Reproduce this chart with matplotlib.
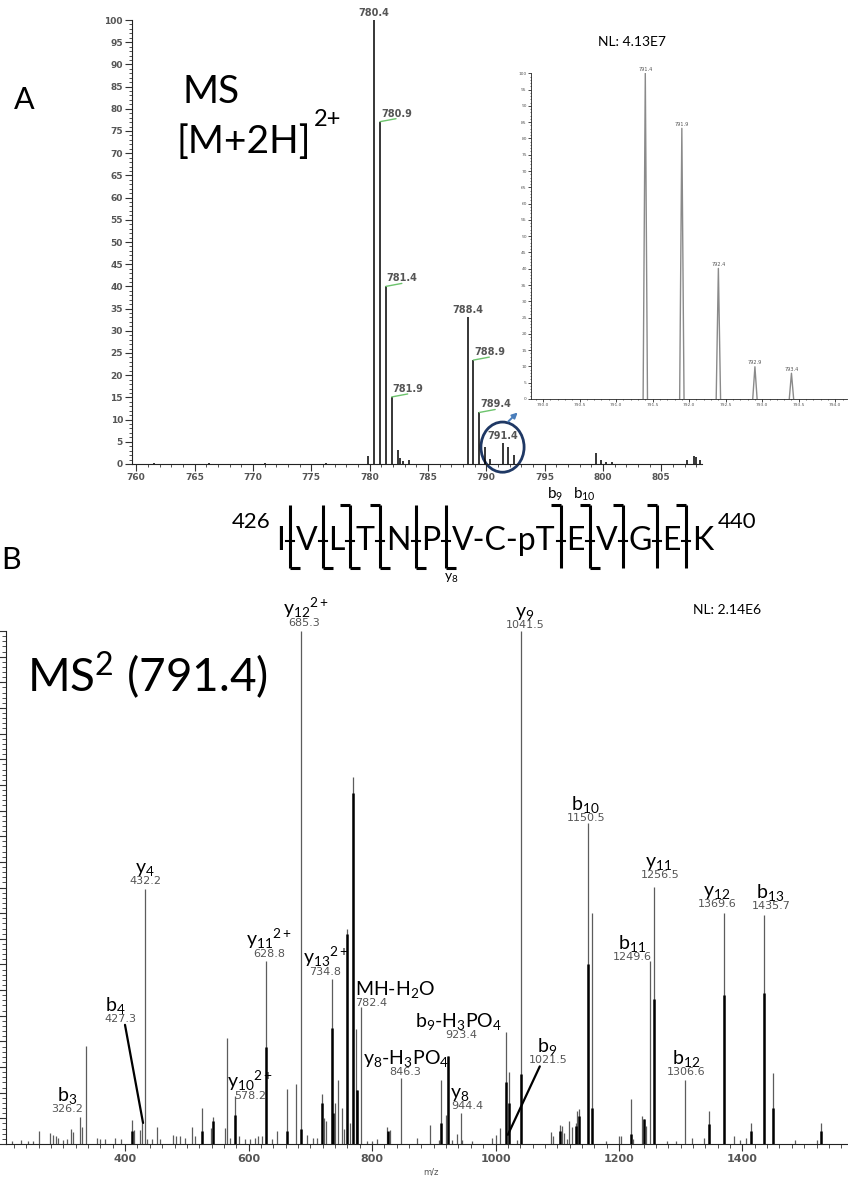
import matplotlib.pyplot as plt
from matplotlib.patches import Ellipse
from matplotlib.ticker import MultipleLocator, FormatStrFormatter

plt.rcParams['font.family'] = ['Lato', 'DejaVu Sans']
plt.rcParams['mathtext.fontset'] = 'custom'
plt.rcParams['mathtext.rm'] = 'Lato'
plt.rcParams['mathtext.it'] = 'Lato:italic'
plt.rcParams['mathtext.bf'] = 'Lato:bold'

# ---------------- data ----------------
# A: full MS scan (relative abundance)
ms1_mz = [761.5, 766.2, 771.0, 776.3, 779.9, 780.4, 780.9, 781.4, 781.9, 782.4,
          782.65, 782.9, 783.35, 788.4, 788.9, 789.4, 789.9, 790.3, 791.4, 791.9,
          792.4, 799.4, 799.8, 800.3, 800.8, 807.2, 807.8, 807.95, 808.3]
ms1_int = [0.3, 0.2, 0.2, 0.2, 1.7, 100, 77.1, 40.0, 15.1, 3.1,
           1.4, 0.6, 0.8, 33.2, 23.4, 11.6, 3.9, 1.1, 4.7, 3.9,
           2.1, 2.5, 0.9, 0.4, 0.4, 0.8, 1.9, 1.5, 1.0]
ms1_labels = ['780.4', '780.9', '781.4', '781.9', '788.4', '788.9', '789.4', '791.4']
ms1_green = ['780.9', '781.4', '781.9', '788.9', '789.4']

# inset: zoom scan of the 791.4 cluster
zoom_mz = [791.4, 791.9, 792.4, 792.9, 793.4]
zoom_int = [100, 83.1, 40.1, 9.9, 7.9]

# peptide sequence and fragment cuts
seq_tokens = ['I', 'V', 'L', 'T', 'N', 'P', 'V-C-pT', 'E', 'V', 'G', 'E', 'K']
cut_b = [False, False, True, True, False, False, True, True, True, True, True]
cut_y = [True, True, True, True, True, True, False, True, False, False, False]
cut_label = ['', '', '', '', '', 'y$_8$', 'b$_9$', 'b$_{10}$', '', '', '']

# B: MS2 of 791.4, profile lines (grey)
ms2_mz = [216.5, 231.0, 243.4, 251.5, 261.2, 278.5, 283.9, 288.2, 292.0, 300.1,
          305.6, 312.5, 316.3, 326.2, 330.0, 336.8, 354.2, 359.5, 367.6, 383.8,
          393.0, 410.8, 414.6, 424.3, 427.3, 432.2, 435.1, 443.2, 451.3, 456.7,
          478.3, 482.6, 489.1, 497.2, 508.0, 513.4, 524.2, 538.8, 543.1, 562.0,
          564.7, 570.1, 578.2, 585.2, 594.4, 602.5, 610.6, 616.0, 621.5, 628.8,
          637.6, 645.7, 662.9, 677.0, 685.3, 694.3, 705.0, 710.5, 718.6, 722.0,
          726.0, 734.8, 740.0, 745.6, 751.0, 755.0, 760.2, 764.0, 769.9, 774.2,
          776.3, 782.4, 791.5, 799.6, 807.7, 823.9, 829.3, 846.3, 872.5, 894.1,
          908.7, 912.0, 920.0, 923.4, 930.3, 937.3, 944.4, 946.5, 962.6, 995.0,
          1000.5, 1007.5, 1016.7, 1021.5, 1035.6, 1041.5, 1089.6, 1093.0, 1104.7, 1107.0,
          1111.2, 1115.0, 1119.3, 1124.7, 1130.1, 1132.8, 1135.5, 1150.5, 1157.0, 1178.7,
          1200.3, 1203.0, 1219.2, 1222.0, 1237.0, 1240.0, 1243.0, 1249.6, 1256.5, 1277.5,
          1292.1, 1306.6, 1319.0, 1338.0, 1346.0, 1369.6, 1386.6, 1396.3, 1405.5, 1413.6,
          1435.7, 1450.2, 1484.8, 1521.5, 1527.0]
ms2_int = [0.5, 0.7, 0.6, 0.6, 2.5, 2.1, 1.8, 1.5, 1.2, 0.7,
           0.9, 2.9, 2.3, 5.2, 3.3, 19.2, 1.2, 0.9, 0.9, 1.2,
           0.9, 4.7, 2.8, 2.8, 4.1, 49.7, 0.9, 0.9, 3.3, 0.9,
           1.8, 1.5, 1.5, 1.2, 3.4, 1.5, 7.1, 3.1, 5.2, 3.1,
           20.7, 1.2, 9.4, 1.5, 0.9, 0.9, 1.2, 1.5, 1.5, 35.7,
           0.9, 2.5, 10.7, 11.7, 100, 1.8, 1.2, 1.2, 9.8, 5.0,
           4.5, 32.2, 8.0, 12.5, 7.1, 3.0, 42.0, 4.0, 71.6, 22.5,
           10.6, 26.7, 0.5, 0.5, 0.9, 3.4, 2.8, 12.9, 1.2, 3.8,
           0.8, 12.5, 5.6, 17.1, 0.8, 2.0, 6.1, 0.8, 0.5, 1.2,
           1.8, 3.1, 21.9, 14.0, 0.8, 100, 2.3, 1.5, 3.8, 3.5,
           2.1, 1.0, 4.4, 3.4, 4.1, 6.4, 6.8, 62.5, 45.1, 0.5,
           1.5, 1.5, 8.7, 1.0, 5.4, 4.8, 3.5, 35.7, 50.1, 0.5,
           0.5, 12.4, 1.2, 1.2, 6.4, 45.0, 1.5, 0.8, 1.2, 4.1,
           44.6, 13.9, 0.8, 0.8, 4.1]
# B: centroid lines (black)
ms2_bk_mz = [410.8, 524.2, 543.1, 578.2, 628.8, 662.9, 685.3, 718.6, 734.8, 737.5,
             760.2, 769.9, 776.3, 826.0, 912.0, 923.4, 1016.7, 1021.5, 1041.5, 1104.7,
             1130.1, 1135.5, 1150.5, 1157.0, 1219.2, 1240.0, 1256.5, 1346.0, 1369.6, 1413.6,
             1435.7, 1450.2, 1527.0]
ms2_bk_int = [2.5, 2.5, 4.5, 5.6, 19.0, 2.5, 3.0, 7.9, 22.6, 6.0,
              41.0, 68.5, 10.6, 2.5, 4.0, 17.1, 12.1, 7.9, 13.7, 2.5,
              3.5, 5.5, 35.1, 7.1, 2.0, 4.8, 28.2, 3.9, 29.0, 2.5,
              29.4, 7.1, 2.5]

# B: assigned fragment ions
ion_names = ['b$_3$', 'b$_4$', 'y$_4$', 'y$_{10}$$^{2+}$', 'y$_{11}$$^{2+}$',
             'y$_{12}$$^{2+}$', 'y$_{13}$$^{2+}$', 'MH-H$_2$O', 'y$_8$-H$_3$PO$_4$',
             'b$_9$-H$_3$PO$_4$', 'y$_8$', 'b$_9$', 'y$_9$', 'b$_{10}$', 'b$_{11}$',
             'y$_{11}$', 'b$_{12}$', 'y$_{12}$', 'b$_{13}$']
ion_mz = [326.2, 427.3, 432.2, 578.2, 628.8, 685.3, 734.8, 782.4, 846.3,
          923.4, 944.4, 1021.5, 1041.5, 1150.5, 1249.6, 1256.5, 1306.6, 1369.6, 1435.7]

# label placement (pixel offset from peak, label height in %)
lab_dx = [-12, -22, 0, 15, 3, 3, -7, 10, 5, 13, 6, 39, 4, -2, -17, 6, 1, -6, 7]
ion_dx = [-12, -27, 0, 15, 3, 5, -6, 34, 6, 10, -1, 38, 4, -3, -18, 5, 1, -7, 6]
lab_y = [6.8, 24.4, 51.3, 9.4, 37.1, 101.5, 33.6, 27.5, 14.0, 21.3, 7.5, 16.3,
         101.2, 63.5, 36.5, 52.4, 14.0, 46.7, 46.3]
leaders = {1: ((5, -6), (429.0, 4.1)), 11: ((-8, -6), (1020.0, 1.8))}

# ---------------- figure ----------------
W, H = 848, 1178
fig = plt.figure(figsize=(W / 100, H / 100), dpi=100)


def px_axes(left, top, right, bottom):
    return fig.add_axes([left / W, 1 - bottom / H, (right - left) / W, (bottom - top) / H])


def clean(ax, lw=0.8):
    for s in ['top', 'right']:
        ax.spines[s].set_visible(False)
    for s in ['left', 'bottom']:
        ax.spines[s].set_linewidth(lw)
        ax.spines[s].set_color('#222222')


num_font = dict(family='DejaVu Sans', color='#555555')

# ---- panel A
axA = px_axes(132, 20, 702, 464)
axA.vlines(ms1_mz, 0, ms1_int, color='black', lw=1.1)
axA.set_xlim(759.64, 808.5)
axA.set_ylim(0, 100)
clean(axA)
axA.xaxis.set_major_locator(MultipleLocator(5))
axA.xaxis.set_minor_locator(MultipleLocator(1))
axA.yaxis.set_major_locator(MultipleLocator(5))
axA.yaxis.set_minor_locator(MultipleLocator(1))
axA.tick_params(which='major', length=5, width=0.8, color='#333333', labelsize=6.5,
                labelcolor='#555555', labelfontfamily='DejaVu Sans', pad=1.5)
axA.tick_params(which='minor', length=2.5, width=0.6, color='#333333')
for t in axA.get_xticklabels() + axA.get_yticklabels():
    t.set_fontweight('bold')

for lab in ms1_labels:
    mz = float(lab)
    h = ms1_int[ms1_mz.index(mz)]
    if lab in ms1_green:
        axA.annotate('', xy=(mz, h), xytext=(16, 3), textcoords='offset pixels',
                     arrowprops=dict(arrowstyle='-', color='#6cc36c', lw=1.0,
                                     shrinkA=0, shrinkB=0))
        axA.annotate(lab, xy=(mz, h), xytext=(1, 8), textcoords='offset pixels',
                     ha='left', va='center', fontsize=7, fontweight='bold', **num_font)
    else:
        axA.annotate(lab, xy=(mz, h), xytext=(0, 7), textcoords='offset pixels',
                     ha='center', va='center', fontsize=7, fontweight='bold', **num_font)

axA.add_patch(Ellipse((791.4, 3.8), 3.7, 11.3, fill=False, ec='#1f3864', lw=2,
                      clip_on=False))
axA.annotate('', xy=(792.7, 11.6), xytext=(791.9, 9.6),
             arrowprops=dict(arrowstyle='-|>', color='#4a7ebb', lw=1.4,
                             mutation_scale=8, shrinkA=0, shrinkB=0),
             annotation_clip=False)

# ---- inset
axI = px_axes(531, 73.3, 847, 399)
for c, h in zip(zoom_mz, zoom_int):
    axI.plot([c - 0.03, c, c + 0.03], [0, h, 0], color='#8a8a8a', lw=1.0)
    axI.annotate('%.1f' % c, xy=(c, h), xytext=(0, 4), textcoords='offset pixels',
                 ha='center', va='center', fontsize=3.6, **num_font)
axI.set_xlim(789.836, 794.16)
axI.set_ylim(0, 100)
clean(axI, 0.6)
axI.xaxis.set_major_locator(MultipleLocator(0.5))
axI.xaxis.set_minor_locator(MultipleLocator(0.1))
axI.xaxis.set_major_formatter(FormatStrFormatter('%.1f'))
axI.yaxis.set_major_locator(MultipleLocator(5))
axI.yaxis.set_minor_locator(MultipleLocator(1))
axI.tick_params(which='major', length=2, width=0.5, labelsize=3.2,
                labelcolor='#555555', labelfontfamily='DejaVu Sans', pad=1)
axI.tick_params(which='minor', length=1, width=0.4)

# ---- panel B
axB = px_axes(6, 631, 848, 1144)
axB.vlines(ms2_mz, 0, ms2_int, color='#5c5c5c', lw=0.9)
axB.vlines(ms2_bk_mz, 0, ms2_bk_int, color='black', lw=1.8)
axB.set_xlim(207, 1571)
axB.set_ylim(0, 100)
clean(axB)
axB.xaxis.set_major_locator(MultipleLocator(200))
axB.xaxis.set_minor_locator(MultipleLocator(20))
axB.yaxis.set_major_locator(MultipleLocator(5))
axB.yaxis.set_minor_locator(MultipleLocator(1))
axB.tick_params(which='major', length=5, width=0.8, color='#333333', labelsize=8,
                labelcolor='#555555', labelfontfamily='DejaVu Sans', pad=2)
axB.tick_params(which='minor', length=3, width=0.6, color='#333333')
axB.tick_params(axis='y', labelleft=False)
for t in axB.get_xticklabels():
    t.set_fontweight('bold')

px_mz = (848 - 6) / (1571 - 207)
px_pc = (1144 - 631) / 100
for i, name in enumerate(ion_names):
    mz = ion_mz[i]
    xn = mz + lab_dx[i] / px_mz
    xi = mz + ion_dx[i] / px_mz
    axB.text(xn, lab_y[i], '%.1f' % mz, ha='center', va='center', fontsize=8, **num_font)
    axB.annotate(name, xy=(xi, lab_y[i]), xytext=(0, 3), textcoords='offset pixels',
                 ha='center', va='bottom', fontsize=14, annotation_clip=False)
    if i in leaders:
        (sx, sy), (ex, ey) = leaders[i]
        axB.annotate('', xy=(ex, ey), xytext=(xn + sx / px_mz, lab_y[i] + sy / px_pc),
                     arrowprops=dict(arrowstyle='-', color='black', lw=1.6,
                                     shrinkA=0, shrinkB=0))

# ---- overlay for free text, sequence and panel letters
ov = fig.add_axes([0, 0, 1, 1])
ov.set_xlim(0, W)
ov.set_ylim(H, 0)
ov.axis('off')

ov.text(24, 100, 'A', fontsize=22, ha='center', va='center')
ov.text(1, 560, 'B', fontsize=22, ha='left', va='center')
ov.text(183, 92, 'MS', fontsize=28, ha='left', va='center')
mh = ov.text(177, 142, '[M+2H]', fontsize=28, ha='left', va='center')
ov.text(632, 42, 'NL: 4.13E7', fontsize=10, ha='center', va='center')
ov.text(727, 610, 'NL: 2.14E6', fontsize=10, ha='center', va='center')
ov.text(27, 676, 'MS$^2$ (791.4)', fontsize=33, ha='left', va='center')
ov.text(431, 1172, 'm/z', fontsize=6, ha='center', va='center', **num_font)

renderer = fig.canvas.get_renderer()
bb = mh.get_window_extent(renderer)
ov.text(bb.x1 + 2, 120, '2+', fontsize=17, ha='left', va='center')

# sequence with fragment brackets
base = 550
gap = 11
x = 276
top, bot, hook = 505, 568, 10
ov.text(x - 5, 528, '426', fontsize=16, ha='right', va='baseline')
for i, tok in enumerate(seq_tokens):
    t = ov.text(x, base, tok, fontsize=23, ha='left', va='baseline')
    x = t.get_window_extent(renderer).x1
    if i == len(seq_tokens) - 1:
        break
    cx = x + gap / 2
    ov.plot([cx, cx], [top, bot], color='black', lw=2.2, solid_capstyle='butt')
    ov.plot([cx - 4, cx + 4], [541, 541], color='black', lw=1.5)
    if cut_b[i]:
        ov.plot([cx - hook, cx], [top, top], color='black', lw=2.2, solid_capstyle='butt')
    if cut_y[i]:
        ov.plot([cx, cx + hook], [bot, bot], color='black', lw=2.2, solid_capstyle='butt')
    if cut_label[i].startswith('b'):
        ov.text(cx - 6, 494, cut_label[i], fontsize=11, ha='center', va='center')
    elif cut_label[i]:
        ov.text(cx + 5, 578, cut_label[i], fontsize=10, ha='center', va='center')
    x += gap
ov.text(x + 5, 528, '440', fontsize=16, ha='left', va='baseline')

fig.savefig('out.png', dpi=100)
